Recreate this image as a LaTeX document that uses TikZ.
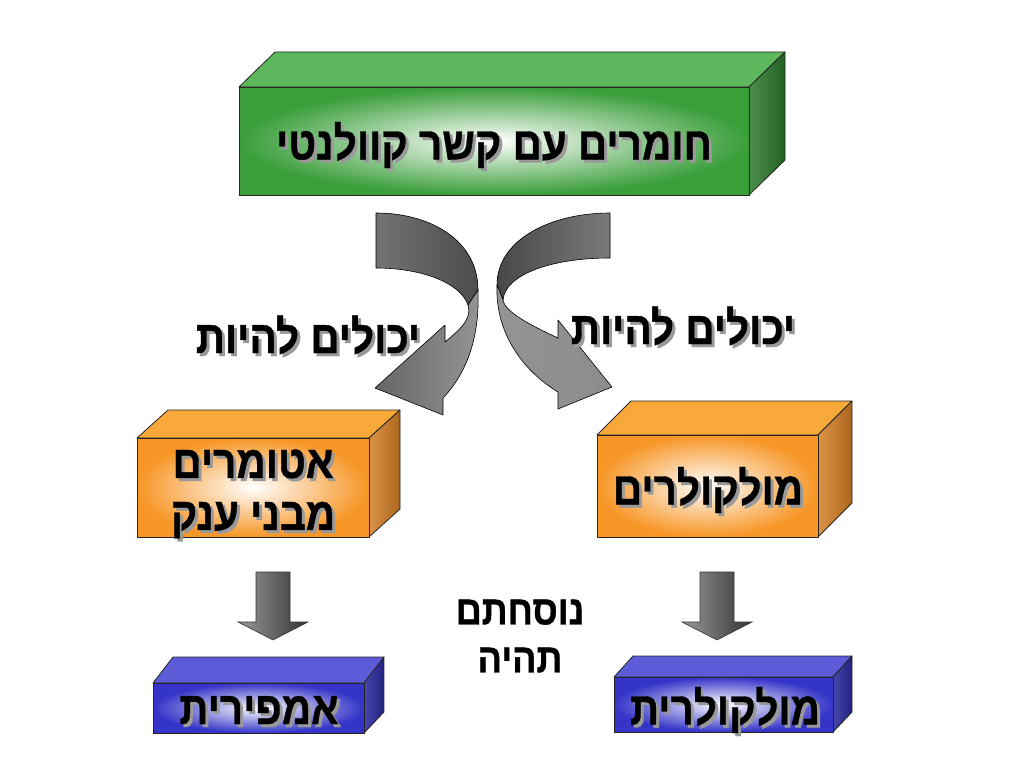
\documentclass[tikz,border=0pt]{standalone}
\usepackage{fontspec}
\newfontfamily\hebfont[Script=Hebrew, FakeStretch=0.88, FakeBold=0.8]{Liberation Sans}
\TeXXeTstate=1
\newcommand{\heb}[1]{\beginR#1\endR}

\definecolor{grnfront}{RGB}{58,158,58}
\definecolor{grntop}{RGB}{92,182,92}
\definecolor{grnside}{RGB}{44,122,44}
\definecolor{orgfront}{RGB}{247,150,38}
\definecolor{orgtop}{RGB}{249,168,58}
\definecolor{orgside}{RGB}{214,128,38}
\definecolor{blufront}{RGB}{52,52,200}
\definecolor{blutop}{RGB}{92,92,216}
\definecolor{bluside}{RGB}{40,40,158}

\tikzset{
  face/.style={draw=black!85, line width=0.8pt, line join=round},
  front/.style={face, inner color=white, outer color=#1},
  topface/.style={face, left color=#1, middle color=#1!45!white, right color=#1},
  sideface/.style={face, left color=#1!85!white, right color=#1!80!black},
  arrowline/.style={draw=black, line width=0.6pt, line join=round},
  dnarrow/.style={draw=black!80, line width=0.6pt,
    left color=black!40, right color=black!80},
  lbl/.style={font=\hebfont\bfseries\fontsize{46}{52}\selectfont,
    inner sep=0pt, align=center},
  shd/.style={lbl, text=black!40},
}

\begin{document}
\begin{tikzpicture}[x=1pt, y=-1pt]
\useasboundingbox (0,0) rectangle (1024,768);

% green box
\shade[topface=grntop] (239,87) -- (275,52) -- (785,52) -- (749,87) -- cycle;
\shade[sideface=grnside] (749,87) -- (785,52) -- (785,160) -- (749,195) -- cycle;
\shade[front=grnfront] (239,87) rectangle (749,195);

% orange boxes
\shade[topface=orgtop] (137,438) -- (168,410) -- (400,410) -- (369,438) -- cycle;
\shade[sideface=orgside] (369,438) -- (400,410) -- (400,509) -- (369,537) -- cycle;
\shade[front=orgfront] (137,438) rectangle (369,537);

\shade[topface=orgtop] (597,435) -- (631,401) -- (852,401) -- (818,435) -- cycle;
\shade[sideface=orgside] (818,435) -- (852,401) -- (852,503) -- (818,537) -- cycle;
\shade[front=orgfront] (597,435) rectangle (818,537);

% blue boxes
\shade[topface=blutop] (153,683) -- (173,657) -- (384,657) -- (364,683) -- cycle;
\shade[sideface=bluside] (364,683) -- (384,657) -- (384,712) -- (364,733) -- cycle;
\shade[front=blufront] (153,683) rectangle (364,733);

\shade[topface=blutop] (614,677) -- (633,656) -- (852,656) -- (833,677) -- cycle;
\shade[sideface=bluside] (833,677) -- (852,656) -- (852,712) -- (833,732) -- cycle;
\shade[front=blufront] (614,677) rectangle (833,732);

% curved arrows, upper band then twisted lower part
\shade[arrowline, left color=black!55, middle color=black!88, right color=black!70]
  (376,213) .. controls (430,213) and (478,240) .. (478,290)
  -- (468,305)
  .. controls (460,282) and (420,268) .. (376,268) -- cycle;
\shade[arrowline, left color=black!60, right color=black!42]
  (478,290) .. controls (480,340) and (465,375) .. (443,398)
  -- (443,415) -- (375,388) -- (445,325) -- (445,342)
  .. controls (462,328) and (472,318) .. (468,305) -- cycle;

\shade[arrowline, left color=black!72, middle color=black!88, right color=black!52]
  (610,213) .. controls (550,213) and (497,240) .. (497,285)
  -- (503,300)
  .. controls (505,275) and (550,258) .. (610,258) -- cycle;
\shade[arrowline, left color=black!42, middle color=black!72, right color=black!45]
  (497,285) .. controls (495,335) and (525,372) .. (558,392)
  -- (558,409) -- (612,387) -- (558,320) -- (558,338)
  .. controls (530,325) and (505,312) .. (503,300) -- cycle;

% down arrows
\shade[dnarrow] (256,572) -- (290,572) -- (290,622) -- (308,622)
  -- (273,640) -- (238,622) -- (256,622) -- cycle;
\shade[dnarrow] (700,572) -- (734,572) -- (734,622) -- (752,622)
  -- (717,640) -- (682,622) -- (700,622) -- cycle;

% labels
\node[shd] at (497,148) {\heb{חומרים עם קשר קוולנטי}};
\node[lbl] (covalent) at (494,145) {\heb{חומרים עם קשר קוולנטי}};

\node[shd] at (311,338) {\heb{יכולים להיות}};
\node[lbl] (canleft) at (308,335) {\heb{יכולים להיות}};
\node[shd] at (686,329) {\heb{יכולים להיות}};
\node[lbl] (canright) at (683,326) {\heb{יכולים להיות}};

\node[shd] at (256,497) {\heb{אטומרים}\\\heb{מבני ענק}};
\node[lbl] (giant) at (253,494) {\heb{אטומרים}\\\heb{מבני ענק}};
\node[shd] at (711,493) {\heb{מולקולרים}};
\node[lbl] (molecular) at (708,490) {\heb{מולקולרים}};

\node[lbl, font=\hebfont\bfseries\fontsize{41}{48}\selectfont] (formula)
  at (520,636) {\heb{נוסחתם}\\\heb{תהיה}};

\node[shd] at (262,713) {\heb{אמפירית}};
\node[lbl] (empirical) at (259,710) {\heb{אמפירית}};
\node[shd] at (728,713) {\heb{מולקולרית}};
\node[lbl] (molformula) at (725,710) {\heb{מולקולרית}};

\end{tikzpicture}
\end{document}
